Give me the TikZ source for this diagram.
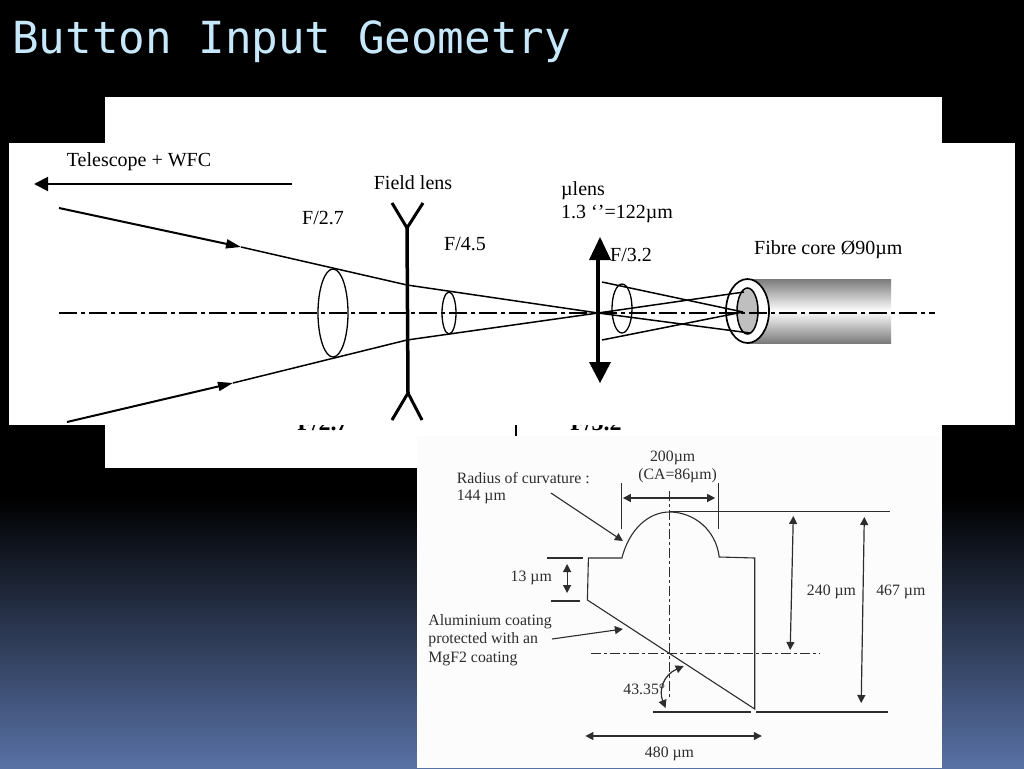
\documentclass[tikz,border=0pt]{standalone}
\usepackage{fontspec}
\setmainfont{Liberation Serif}
\newfontfamily\titlefont{DejaVu Sans Mono}
\usetikzlibrary{arrows.meta}
\definecolor{titleblue}{RGB}{198,232,250}
\definecolor{slideblue}{RGB}{88,113,165}
\definecolor{photoink}{RGB}{45,45,45}
\tikzset{
    axisline/.style={line width=1.7pt,dash pattern=on 18pt off 4pt on 4pt off 4pt},
    thinaxis/.style={line width=.8pt,photoink,dash pattern=on 10pt off 3pt on 3pt off 3pt},
    lensline/.style={line width=4pt},
    rayline/.style={line width=1.5pt},
    thickray/.style={line width=2pt,-{Triangle[length=15pt,width=9pt]}},
    dimline/.style={line width=1.2pt,photoink,{Triangle[length=8pt,width=8pt]}-{Triangle[length=8pt,width=8pt]}},
    leaderline/.style={line width=1.1pt,photoink,-{Triangle[length=8pt,width=8pt]}},
    partline/.style={line width=1.1pt,photoink},
    toplabel/.style={font=\toplabelsize,inner sep=0},
    lowlabel/.style={font=\lowlabelsize,text=photoink,inner sep=0}
}
\begin{document}
\begin{tikzpicture}[x=1pt,y=-1pt]
    \providecommand{\toplabelsize}{\fontsize{20}{22}\selectfont}
    \providecommand{\lowlabelsize}{\fontsize{15.8}{18}\selectfont}
    \pgfmathsetmacro{\axisheight}{313}
    \pgfmathsetmacro{\fibreleft}{748}
    % slide background
    \useasboundingbox (0,0) rectangle (1024,768);
    \fill[black] (0,0) rectangle (1024,768);
    \shade[top color=black,bottom color=slideblue] (0,498) rectangle (1024,768);
    \node[font=\titlefont\fontsize{44.2}{48}\selectfont,text=titleblue,anchor=west,inner sep=0] (title) at (12,42) {Button Input Geometry};
    % pasted images
    \fill[white] (105,97) rectangle (942,468);
    \node[font=\bfseries\fontsize{24}{26}\selectfont,anchor=base,inner sep=0] (cutleft) at (323,430) {F/2.7};
    \node[font=\bfseries\fontsize{24}{26}\selectfont,anchor=base,inner sep=0] (cutright) at (596,430) {F/3.2};
    \fill[white] (9,143) rectangle (1015,425);
    \draw[line width=1.2pt] (516,425) -- (516,436);
    \fill[black!1] (417,436) rectangle (942,768);

    % top image: fibre
    \shade[top color=black!52,bottom color=black!52,middle color=white] (\fibreleft,279) rectangle (891,343);
    % cones and fibre end
    \draw[line width=1.3pt] (333,313) ellipse[x radius=15,y radius=44];
    \draw[line width=1.3pt] (449,313) ellipse[x radius=7,y radius=21];
    \draw[line width=1.3pt] (622,308.5) ellipse[x radius=10,y radius=24.5];
    \draw[line width=1.7pt,fill=white] (747.5,311) ellipse[x radius=21.5,y radius=32];
    \draw[line width=1.5pt,fill=black!25] (747.5,311) ellipse[x radius=10.5,y radius=23];
    \draw[axisline] (59,\axisheight) -- (935,\axisheight);
    % rays
    \coordinate (upstart) at (59,208);
    \coordinate (upmark) at (241,247);
    \coordinate (upfield) at (407,285);
    \coordinate (downstart) at (67,422);
    \coordinate (downmark) at (233,383);
    \coordinate (downfield) at (407,340);
    \coordinate (focus) at (598,313);
    \draw[thickray] (upstart) -- (upmark);
    \draw[thickray] (downstart) -- (downmark);
    \draw[rayline] (upmark) -- (upfield) -- (focus);
    \draw[rayline] (downmark) -- (downfield) -- (focus);
    \draw[rayline] (focus) -- (744,292);
    \draw[rayline] (focus) -- (750,333);
    \draw[rayline] (602,282) -- (743,312);
    \draw[rayline] (602,340) -- (743,312);
    % telescope arrow
    \coordinate (telstart) at (292,184);
    \coordinate (telend) at (34,184);
    \draw[line width=2pt,-{Triangle[length=14pt,width=14pt]}] (telstart) -- (telend);
    % field lens
    \draw[lensline,line width=3.5pt] (407,228) -- (408,393);
    \draw[lensline,line width=3pt] (392,203) -- (407,228) -- (423,203);
    \draw[lensline,line width=3pt] (392,420) -- (408,393) -- (422,420);
    % micro lens
    \draw[lensline] (598,255) -- (598,368);
    \fill (600,237) -- (611,260) -- (589,260) -- cycle;
    \fill (589,362) -- (611,362) -- (600,383) -- cycle;
    % top labels
    \node[toplabel] (telescope) at (139,162) {Telescope + WFC};
    \node[toplabel] (fieldlens) at (413,183) {Field lens};
    \node[toplabel] (ftwo) at (323,218) {F/2.7};
    \node[toplabel] (ffour) at (465,244) {F/4.5};
    \node[toplabel,anchor=west] (mulens) at (561,191) {µlens};
    \node[toplabel,anchor=west] (muscale) at (561,214) {1.3 ‘’=122µm};
    \node[toplabel,anchor=west] (fthree) at (610,255) {F/3.2};
    \node[toplabel,anchor=west] (fibrecore) at (754,250) {Fibre core Ø90µm};

    % bottom image: button
    \draw[partline] (587.4,600) -- (588.4,558) -- (621.9,558) .. controls (629,530) and (648,512) .. (669.5,512) .. controls (694,512) and (716,530) .. (719.2,557) -- (754.7,558) -- (754.7,709) -- cycle;
    \draw[thinaxis] (669.5,491) -- (669.5,697);
    \draw[thinaxis] (591.4,653) -- (819.6,653);
    \draw[partline] (669.5,511.5) -- (889.6,511.5);
    \draw[partline] (621.9,483) -- (621.9,529);
    \draw[partline] (718.2,483) -- (718.2,529);
    \draw[partline] (546.8,558) -- (583.3,558);
    \draw[partline] (550.9,601) -- (580.3,601);
    \draw[partline] (653.3,712) -- (750.7,712);
    \draw[partline] (755.7,712) -- (887.6,712);
    % dimensions
    \draw[dimline] (622.9,498) -- (715.2,498);
    \draw[dimline] (567.1,564) -- (567.1,593);
    \draw[dimline] (793.3,516) -- (790.2,650);
    \draw[dimline] (864.3,517) -- (861.2,703);
    \draw[dimline] (585.4,736) -- (761.8,736);
    \draw[dimline] (683.7,666) .. controls (663.5,675) and (658.4,690) .. (665.5,708);
    \draw[leaderline] (550.9,493) -- (622.9,541);
    \draw[leaderline] (552,639) -- (622.9,629);
    % bottom labels
    \node[lowlabel] (dimtop) at (672.6,458) {200µm};
    \node[lowlabel] (dimca) at (677.6,476) {(CA=86µm)};
    \node[lowlabel,anchor=west] (radius) at (456.6,478) {Radius of curvature :};
    \node[lowlabel,anchor=west] (radiusval) at (456.6,497) {144 µm};
    \node[lowlabel,anchor=east] (dimstep) at (552,578) {13 µm};
    \node[lowlabel,anchor=west] (alu) at (428.2,622) {Aluminium coating};
    \node[lowlabel,anchor=west] (prot) at (428.2,640) {protected with an};
    \node[lowlabel,anchor=west] (mgf) at (428.2,659) {MgF2 coating};
    \node[lowlabel,anchor=east] (angle) at (665.5,689) {43.35°};
    \node[lowlabel] (dimmid) at (831.5,592) {240 µm};
    \node[lowlabel] (dimfull) at (900.8,592) {467 µm};
    \node[lowlabel] (dimbase) at (669.5,754) {480 µm};
\end{tikzpicture}
\end{document}
